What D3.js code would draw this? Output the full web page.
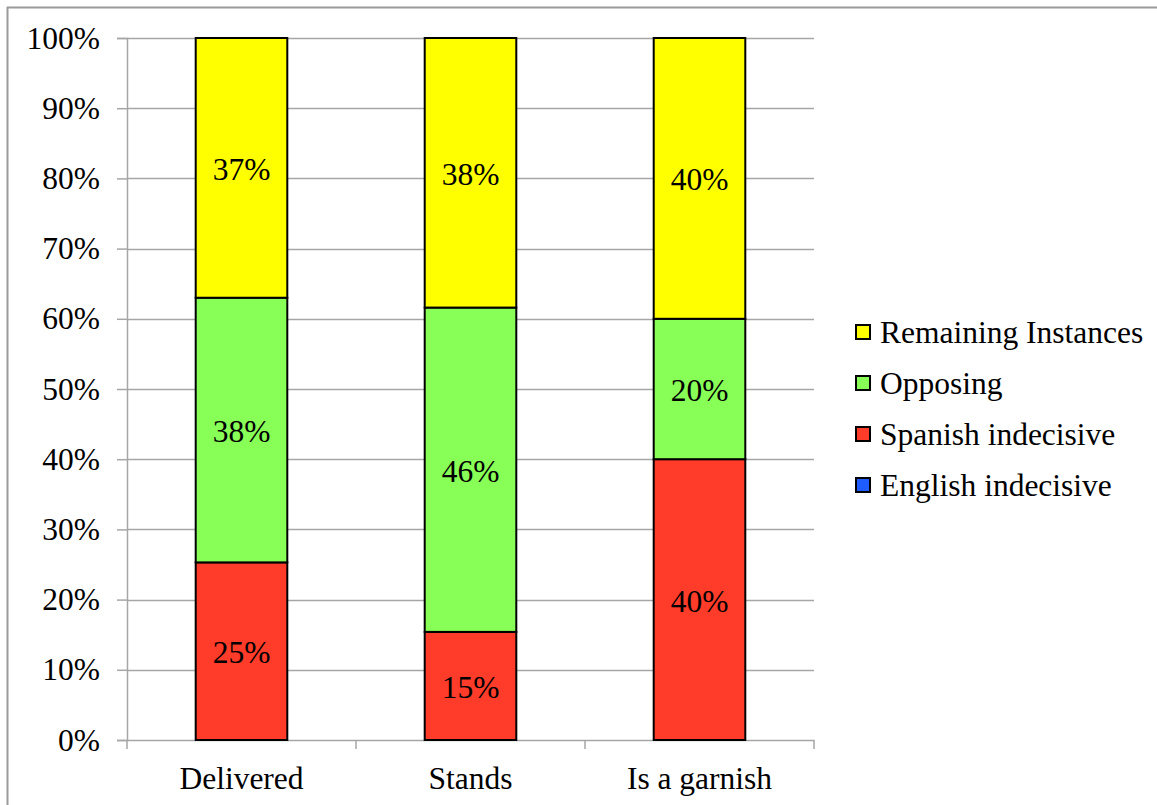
<!DOCTYPE html>
<html>
<head>
<meta charset="utf-8">
<script src="https://cdn.jsdelivr.net/npm/d3@7"></script>
<style>
  html, body { margin: 0; padding: 0; background: #fff; }
</style>
</head>
<body>
<svg id="chart" width="1157" height="805"></svg>
<script>
// Categories along the x axis
const categories = ["Delivered", "Stands", "Is a garnish"];

// Share of instances per category (percent), stacked bottom to top
const englishIndecisive = [0, 0, 0];
const spanishIndecisive = [25.3, 15.4, 40];
const opposing = [37.7, 46.2, 20];
const remainingInstances = [37.0, 38.4, 40];

const seriesNames = ["English indecisive", "Spanish indecisive", "Opposing", "Remaining Instances"];
const seriesColors = ["#1f5cff", "#ff3b2a", "#88ff57", "#ffff00"];

const yTicks = [0, 10, 20, 30, 40, 50, 60, 70, 80, 90, 100];

const FONT = "Liberation Serif";
const FS = 31.5;

const rows = categories.map((c, i) => ({
  category: c,
  "English indecisive": englishIndecisive[i],
  "Spanish indecisive": spanishIndecisive[i],
  "Opposing": opposing[i],
  "Remaining Instances": remainingInstances[i]
}));

const svg = d3.select("#chart");
const plot = { left: 127, right: 814, top: 38, bottom: 740 };

// Outer frame (top and left edges)
svg.append("line").attr("x1", 7).attr("x2", 1157).attr("y1", 7.5).attr("y2", 7.5)
  .attr("stroke", "#9a9a9a").attr("stroke-width", 2);
svg.append("line").attr("x1", 7.5).attr("x2", 7.5).attr("y1", 7).attr("y2", 805)
  .attr("stroke", "#9a9a9a").attr("stroke-width", 2);

const x = d3.scaleBand().domain(categories).range([plot.left, plot.right]).paddingInner(0).paddingOuter(0);
const y = d3.scaleLinear().domain([0, 100]).range([plot.bottom, plot.top]);

// Gridlines
svg.append("g")
  .selectAll("line").data(yTicks.filter(t => t > 0)).join("line")
  .attr("x1", plot.left).attr("x2", plot.right)
  .attr("y1", d => Math.round(y(d)) + 0.5).attr("y2", d => Math.round(y(d)) + 0.5)
  .attr("stroke", "#a6a6a6").attr("stroke-width", 1.5);

// Y axis
const yAxis = svg.append("g").attr("transform", `translate(${plot.left},0)`)
  .call(d3.axisLeft(y).tickValues(yTicks).tickFormat(d => d + "%").tickSize(10).tickPadding(17))
  .attr("font-family", FONT).attr("font-size", FS);
yAxis.select(".domain").attr("stroke", "#a6a6a6").attr("stroke-width", 1.5);
yAxis.selectAll(".tick line").attr("stroke", "#a6a6a6").attr("stroke-width", 1.5);
yAxis.selectAll(".tick text").attr("fill", "#000");

// X axis
const xAxis = svg.append("g").attr("transform", `translate(0,${plot.bottom})`)
  .call(d3.axisBottom(x).tickSize(0).tickPadding(27))
  .attr("font-family", FONT).attr("font-size", FS);
xAxis.select(".domain").attr("stroke", "#a6a6a6").attr("stroke-width", 1.5);
xAxis.selectAll(".tick text").attr("fill", "#000");
// Category separator ticks
const boundaries = categories.map(c => x(c)).concat([x(categories[categories.length - 1]) + x.bandwidth()]);
svg.append("g").selectAll("line").data(boundaries).join("line")
  .attr("x1", d => d).attr("x2", d => d)
  .attr("y1", plot.bottom).attr("y2", plot.bottom + 9)
  .attr("stroke", "#a6a6a6").attr("stroke-width", 1.5);

// Stacked bars
const stack = d3.stack().keys(seriesNames);
const stacked = stack(rows);
const barW = x.bandwidth() * 0.40;
const color = d3.scaleOrdinal().domain(seriesNames).range(seriesColors);

const layers = svg.append("g").selectAll("g").data(stacked).join("g")
  .attr("fill", d => color(d.key));

layers.selectAll("rect").data(d => d.filter(p => p[1] - p[0] > 0)).join("rect")
  .attr("x", d => x(d.data.category) + (x.bandwidth() - barW) / 2)
  .attr("width", barW)
  .attr("y", d => y(d[1]))
  .attr("height", d => y(d[0]) - y(d[1]))
  .attr("stroke", "#000").attr("stroke-width", 2);

// Value labels centred in each segment
layers.selectAll("text").data(d => d.filter(p => p[1] - p[0] > 0)).join("text")
  .attr("x", d => x(d.data.category) + x.bandwidth() / 2)
  .attr("y", d => (y(d[0]) + y(d[1])) / 2 + 1)
  .attr("dy", "0.35em")
  .attr("text-anchor", "middle")
  .attr("font-family", FONT)
  .attr("font-size", FS)
  .attr("fill", "#000")
  .text(d => Math.round(d[1] - d[0]) + "%");

// Legend (top entry is the top of the stack)
const legendItems = seriesNames.slice().reverse();
const legend = svg.append("g").attr("transform", "translate(856,332)");
const li = legend.selectAll("g").data(legendItems).join("g")
  .attr("transform", (d, i) => `translate(0,${i * 51})`);
li.append("rect").attr("x", 0).attr("y", -7).attr("width", 14).attr("height", 14)
  .attr("fill", d => color(d)).attr("stroke", "#000").attr("stroke-width", 2);
li.append("text").attr("x", 24).attr("y", 0).attr("dy", "0.35em")
  .attr("font-family", FONT).attr("font-size", FS).attr("fill", "#000").text(d => d);
</script>
</body>
</html>
